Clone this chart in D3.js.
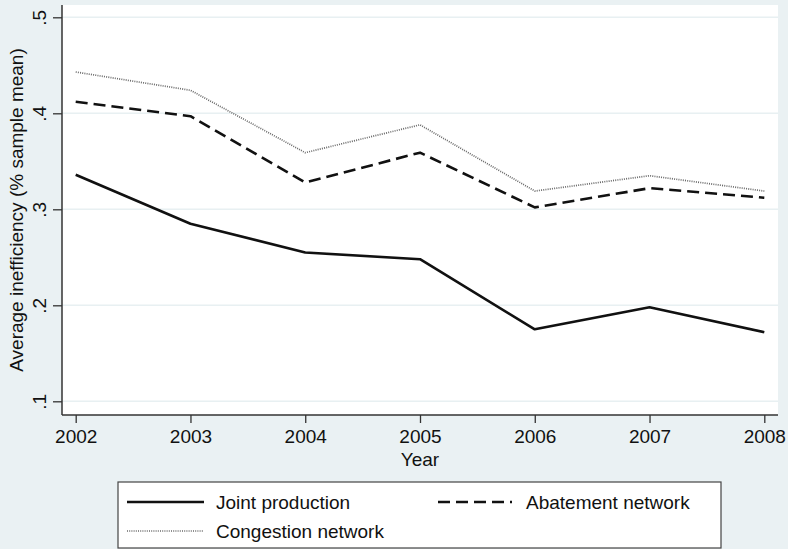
<!DOCTYPE html>
<html>
<head>
<meta charset="utf-8">
<script src="https://cdn.jsdelivr.net/npm/d3@7"></script>
<style>
  html, body { margin: 0; padding: 0; background: #eaf1f3; }
  svg { display: block; }
  text { font-family: "Liberation Sans", Arial, Helvetica, sans-serif; fill: #111; }
</style>
</head>
<body>
<svg id="chart" width="788" height="549"></svg>
<script>
// Average inefficiency by year, three model specifications
const years = [2002, 2003, 2004, 2005, 2006, 2007, 2008];
const jointProduction   = [0.336, 0.285, 0.255, 0.248, 0.175, 0.198, 0.172];
const abatementNetwork  = [0.412, 0.397, 0.328, 0.359, 0.302, 0.322, 0.312];
const congestionNetwork = [0.443, 0.424, 0.359, 0.388, 0.319, 0.335, 0.319];
const seriesNames = ["Joint production", "Abatement network", "Congestion network"];
const yTicks = [0.1, 0.2, 0.3, 0.4, 0.5];
const yTickLabels = [".1", ".2", ".3", ".4", ".5"];
const xTitle = "Year";
const yTitle = "Average inefficiency (% sample mean)";

const W = 788, H = 549;
const plot = { left: 62, right: 778, top: 5, bottom: 415 };
const fontSize = 19;
const fontFamily = '"Liberation Sans", Arial, Helvetica, sans-serif';

const svg = d3.select("#chart");

const x = d3.scaleLinear().domain([2002, 2008]).range([75.7, 764.3]);
const y = d3.scaleLinear().domain([0.1, 0.5]).range([401.3, 17.3]);

// background
svg.append("rect").attr("width", W).attr("height", H).attr("fill", "#eaf1f3");
svg.append("rect")
  .attr("x", plot.left).attr("y", plot.top)
  .attr("width", plot.right - plot.left).attr("height", plot.bottom - plot.top)
  .attr("fill", "#ffffff");

// horizontal grid
svg.append("g").selectAll("line").data(yTicks).join("line")
  .attr("x1", plot.left).attr("x2", plot.right)
  .attr("y1", d => y(d)).attr("y2", d => y(d))
  .attr("stroke", "#e8f0f2").attr("stroke-width", 1.5);

// series lines
const series = [
  { name: seriesNames[0], values: jointProduction,   stroke: "#111", width: 2.6, dash: null },
  { name: seriesNames[1], values: abatementNetwork,  stroke: "#111", width: 2.6, dash: "12,6" },
  { name: seriesNames[2], values: congestionNetwork, stroke: "#6a6a6a", width: 1.7, dash: "1,1.2" }
];
const line = d3.line().x((d, i) => x(years[i])).y(d => y(d));
svg.append("g").selectAll("path").data(series).join("path")
  .attr("d", d => line(d.values))
  .attr("fill", "none")
  .attr("stroke", d => d.stroke)
  .attr("stroke-width", d => d.width)
  .attr("stroke-dasharray", d => d.dash)
  .attr("stroke-linejoin", "round");

// axes
const axisColor = "#333";
const yAxis = svg.append("g").attr("transform", `translate(${plot.left},0)`)
  .call(d3.axisLeft(y).tickValues(yTicks).tickFormat((d, i) => yTickLabels[i]).tickSize(9).tickSizeOuter(0));
yAxis.select(".domain").remove();
yAxis.selectAll(".tick line").attr("stroke", axisColor).attr("stroke-width", 1.3);
yAxis.selectAll(".tick text")
  .attr("transform", "rotate(-90)")
  .attr("text-anchor", "middle")
  .attr("x", 0).attr("y", -16).attr("dy", null)
  .style("font-size", fontSize + "px")
  .style("font-family", fontFamily)
  .attr("fill", "#111");

const xAxis = svg.append("g").attr("transform", `translate(0,${plot.bottom})`)
  .call(d3.axisBottom(x).tickValues(years).tickFormat(d3.format("d")).tickSize(8).tickSizeOuter(0));
xAxis.select(".domain").remove();
xAxis.selectAll(".tick line").attr("stroke", axisColor).attr("stroke-width", 1.3);
xAxis.selectAll(".tick text")
  .attr("y", 28).attr("dy", null)
  .style("font-size", fontSize + "px")
  .style("font-family", fontFamily)
  .attr("fill", "#111");

svg.append("line")
  .attr("x1", plot.left).attr("x2", plot.left)
  .attr("y1", plot.top).attr("y2", plot.bottom)
  .attr("stroke", axisColor).attr("stroke-width", 1.5);
svg.append("line")
  .attr("x1", plot.left).attr("x2", plot.right)
  .attr("y1", plot.bottom).attr("y2", plot.bottom)
  .attr("stroke", axisColor).attr("stroke-width", 1.5);

// axis titles
svg.append("text")
  .attr("x", (plot.left + plot.right) / 2).attr("y", 466)
  .attr("text-anchor", "middle")
  .style("font-size", fontSize + "px")
  .text(xTitle);
svg.append("text")
  .attr("transform", `translate(23,${(plot.top + plot.bottom) / 2}) rotate(-90)`)
  .attr("text-anchor", "middle")
  .style("font-size", fontSize + "px")
  .text(yTitle);

// legend
const legend = svg.append("g");
legend.append("rect")
  .attr("x", 118).attr("y", 482).attr("width", 603).attr("height", 66)
  .attr("fill", "#fff").attr("stroke", "#444").attr("stroke-width", 1.2);
const legendPos = [
  { sx: 127, ex: 204, ly: 502, tx: 216, ty: 508.5 },
  { sx: 438, ex: 512, ly: 502, tx: 526, ty: 508.5 },
  { sx: 127, ex: 204, ly: 531, tx: 216, ty: 537.5 }
];
series.forEach((s, i) => {
  const p = legendPos[i];
  legend.append("line")
    .attr("x1", p.sx).attr("x2", p.ex).attr("y1", p.ly).attr("y2", p.ly)
    .attr("stroke", s.stroke).attr("stroke-width", s.width)
    .attr("stroke-dasharray", s.dash);
  legend.append("text")
    .attr("x", p.tx).attr("y", p.ty)
    .style("font-size", fontSize + "px")
    .text(s.name);
});
</script>
</body>
</html>
